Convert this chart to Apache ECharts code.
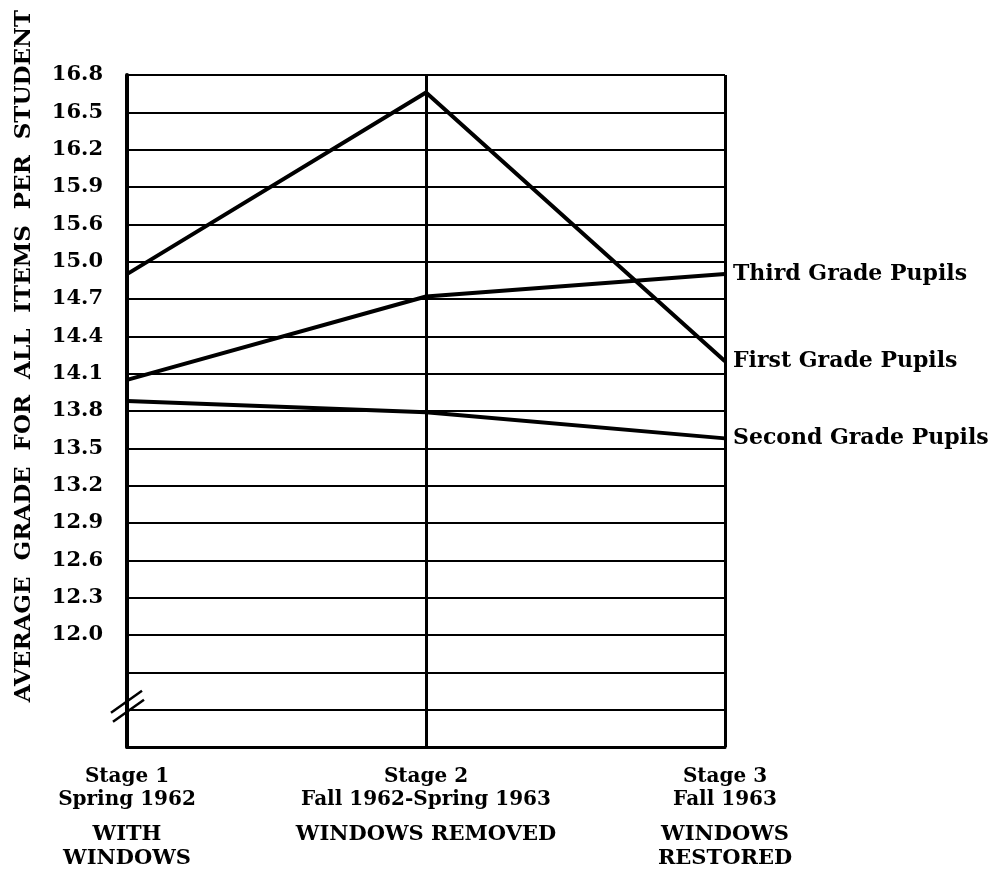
<!DOCTYPE html>
<html>
<head>
<meta charset="utf-8">
<script src="https://cdn.jsdelivr.net/npm/echarts@6/dist/echarts.min.js"></script>
<style>
  html, body { margin: 0; padding: 0; background: #fff; }
  #chart { width: 998px; height: 876px; }
</style>
</head>
<body>
<div id="chart"></div>
<script>
// stages along the x axis
const stages = ['Stage 1', 'Stage 2', 'Stage 3']
const periods = ['Spring 1962', 'Fall 1962-Spring 1963', 'Fall 1963']
const conditions = ['WITH\nWINDOWS', 'WINDOWS REMOVED', 'WINDOWS\nRESTORED']

// printed tick labels, bottom to top (the axis is broken below 12.0 and jumps 15.0 -> 15.6)
const tickLabels = ['', '', '', '12.0', '12.3', '12.6', '12.9', '13.2', '13.5', '13.8',
  '14.1', '14.4', '14.7', '15.0', '15.6', '15.9', '16.2', '16.5', '16.8']

// average grade per student
const firstGrade = [14.9, 16.66, 14.2]
const secondGrade = [13.88, 13.79, 13.58]
const thirdGrade = [14.05, 14.72, 14.9]

const serif = "'DejaVu Serif', serif"

// value -> position on the evenly spaced printed scale
const ticks = tickLabels.map((t, i) => ({ i, v: parseFloat(t) })).filter(t => !isNaN(t.v))
const toPos = (v) => {
  for (let k = 0; k < ticks.length - 1; k++) {
    const a = ticks[k], b = ticks[k + 1]
    if (v >= a.v && v <= b.v) return a.i + (v - a.v) / (b.v - a.v) * (b.i - a.i)
  }
  return v < ticks[0].v ? ticks[0].i : ticks[ticks.length - 1].i
}

const chart = echarts.init(document.getElementById('chart'))

const makeSeries = (name, data) => ({
  name,
  type: 'line',
  data: data.map(toPos),
  symbol: 'none',
  lineStyle: { color: '#000', width: 4 },
  endLabel: {
    show: true,
    formatter: '{a}',
    distance: 8,
    color: '#000',
    fontFamily: serif,
    fontWeight: 'bold',
    fontSize: 22
  }
})

const option = {
  animation: false,
  backgroundColor: '#fff',
  grid: { left: 127, right: 273, top: 75, bottom: 129 },
  xAxis: {
    type: 'category',
    data: stages,
    boundaryGap: false,
    axisLine: { lineStyle: { color: '#000', width: 3 } },
    axisTick: { show: false },
    splitLine: { show: true, lineStyle: { color: '#000', width: 3 } },
    axisLabel: {
      margin: 18,
      interval: 0,
      color: '#000',
      formatter: (v, i) => `{a|${stages[i]}}\n{a|${periods[i]}}\n{g| }\n` +
        conditions[i].split('\n').map(s => `{b|${s}}`).join('\n'),
      rich: {
        a: { fontFamily: serif, fontWeight: 'bold', fontSize: 20, lineHeight: 23, color: '#000', align: 'center' },
        g: { fontSize: 10, lineHeight: 12 },
        b: { fontFamily: serif, fontWeight: 'bold', fontSize: 21, lineHeight: 24, color: '#000', align: 'center' }
      }
    }
  },
  yAxis: {
    type: 'value',
    min: 0,
    max: 18,
    interval: 1,
    axisLine: { show: true, lineStyle: { color: '#000', width: 4 } },
    axisTick: { show: false },
    splitLine: { show: true, lineStyle: { color: '#000', width: 2 } },
    axisLabel: {
      margin: 24,
      color: '#000',
      fontFamily: serif,
      fontWeight: 'bold',
      fontSize: 21,
      formatter: (v) => tickLabels[v] || ''
    }
  },
  series: [
    makeSeries('First Grade Pupils', firstGrade),
    makeSeries('Second Grade Pupils', secondGrade),
    makeSeries('Third Grade Pupils', thirdGrade)
  ]
}

chart.setOption(option)

// axis title and the break mark on the y axis
const p = chart.convertToPixel({ xAxisIndex: 0, yAxisIndex: 0 }, [0, 1])
chart.setOption({
  graphic: [
    {
      type: 'text',
      x: 24,
      y: 356,
      rotation: Math.PI / 2,
      style: {
        text: 'AVERAGE  GRADE  FOR  ALL  ITEMS  PER  STUDENT',
        fill: '#000',
        font: "bold 23px 'DejaVu Serif', serif",
        align: 'center',
        verticalAlign: 'middle'
      }
    },
    {
      type: 'line',
      shape: { x1: p[0] - 16, y1: p[1] + 3, x2: p[0] + 15, y2: p[1] - 19 },
      style: { stroke: '#000', lineWidth: 2.5 }
    },
    {
      type: 'line',
      shape: { x1: p[0] - 14, y1: p[1] + 12, x2: p[0] + 17, y2: p[1] - 10 },
      style: { stroke: '#000', lineWidth: 2.5 }
    }
  ]
})
</script>
</body>
</html>
